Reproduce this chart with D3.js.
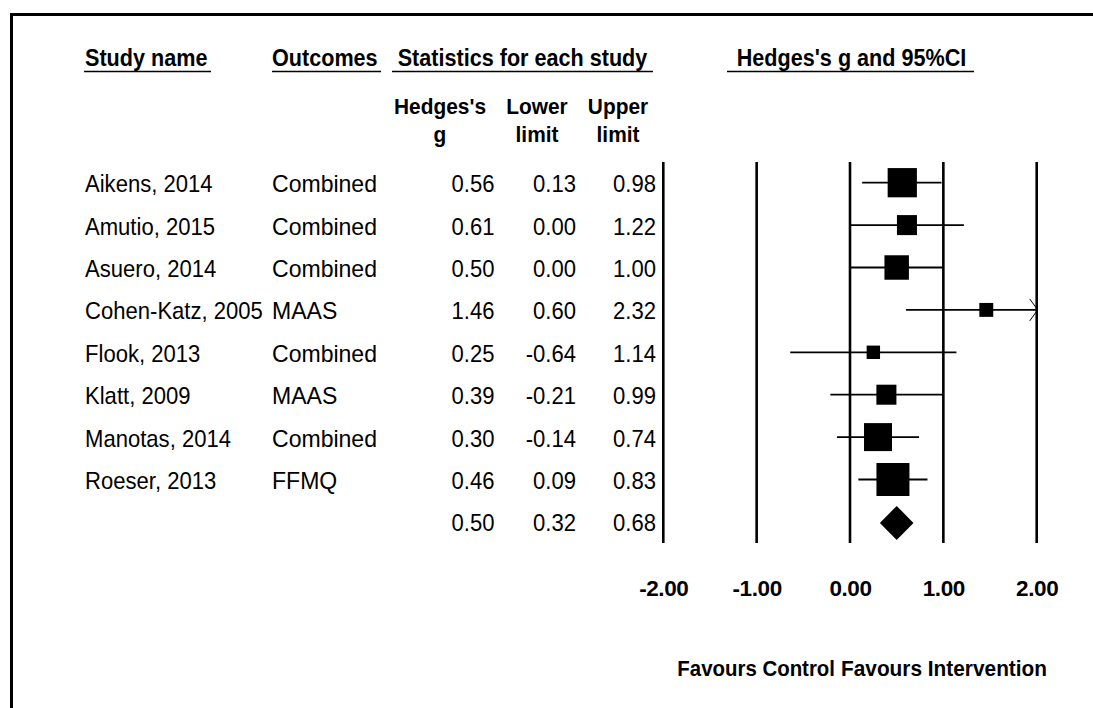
<!DOCTYPE html>
<html><head><meta charset="utf-8">
<script src="https://cdn.jsdelivr.net/npm/d3@7"></script>
<style>
html,body{margin:0;padding:0;background:#fff;}
svg{display:block;font-family:"Liberation Sans",Arial,sans-serif;}
</style></head><body>
<svg id="chart" width="1093" height="708"></svg>
<script>
// ---- data ----
const studies = ["Aikens, 2014","Amutio, 2015","Asuero, 2014","Cohen-Katz, 2005","Flook, 2013","Klatt, 2009","Manotas, 2014","Roeser, 2013"];
const outcomes = ["Combined","Combined","Combined","MAAS","Combined","MAAS","Combined","FFMQ"];
const hedgesG = [0.56,0.61,0.50,1.46,0.25,0.39,0.30,0.46];
const lowerLimit = [0.13,0.00,0.00,0.60,-0.64,-0.21,-0.14,0.09];
const upperLimit = [0.98,1.22,1.00,2.32,1.14,0.99,0.74,0.83];
const relWeights = [19.0,8.9,13.3,4.3,4.0,8.9,17.4,24.2];
const summaryValues = [0.50,0.32,0.68]; // g, lower, upper
const tickValues = [-2,-1,0,1,2];
const topHeaders = ["Study name","Outcomes","Statistics for each study","Hedges's g and 95%CI"];
const subHeaders = [["Hedges's","g"],["Lower","limit"],["Upper","limit"]];
const favourLabels = ["Favours Control","Favours Intervention"];

const svg = d3.select("#chart");
const fmt = v => v.toFixed(2);

// condensed text helper
function txt(x0, y0, t, opts) {
  const o = Object.assign({size:24, bold:false, anchor:"start", sx:0.92}, opts||{});
  return svg.append("text")
    .attr("transform", `translate(${x0},${y0}) scale(${o.sx},1)`)
    .attr("text-anchor", o.anchor)
    .attr("font-size", o.size)
    .attr("font-weight", o.bold ? "bold" : "normal")
    .attr("fill", "#000")
    .text(t);
}

// frame (top + left)
svg.append("line").attr("x1",10).attr("x2",1093).attr("y1",14.5).attr("y2",14.5).attr("stroke","#000").attr("stroke-width",3);
svg.append("line").attr("x1",11.5).attr("x2",11.5).attr("y1",13).attr("y2",708).attr("stroke","#000").attr("stroke-width",3);

// scales
const x = d3.scaleLinear().domain([-2,2]).range([663.3,1036.7]);
const nRows = studies.length + 1;
const y = d3.scalePoint().domain(d3.range(nRows)).range([183.7,522.9]);
const side = d3.scaleSqrt().domain([0,d3.max(relWeights)]).range([0,33]);

// top headers
const hdrPos = [{x:85,a:"start",u:[84,211]},{x:272,a:"start",u:[272,381]},{x:522.5,a:"middle",u:[392,653]},{x:851.5,a:"middle",u:[727,974]}];
topHeaders.forEach((t,i)=>{
  txt(hdrPos[i].x, 65.5, t, {bold:true, anchor:hdrPos[i].a, sx:0.9});
  svg.append("line").attr("x1",hdrPos[i].u[0]).attr("x2",hdrPos[i].u[1]).attr("y1",71.5).attr("y2",71.5)
    .attr("stroke","#000").attr("stroke-width",1.6);
});
// sub headers
const subX = [440,537,618];
subHeaders.forEach((lines,i)=>{
  lines.forEach((t,j)=>{
    txt(subX[i], 113.5+j*28, t, {bold:true, anchor:"middle", size:22, sx:0.95});
  });
});

// table rows
const colRight = [494.5,576,656];
const rows = studies.map((s,i)=>({name:s,outcome:outcomes[i],vals:[hedgesG[i],lowerLimit[i],upperLimit[i]],i}));
rows.forEach(r=>{
  const by = y(r.i)+8.5;
  txt(85, by, r.name);
  txt(272, by, r.outcome, {sx:0.96});
  r.vals.forEach((v,k)=> txt(colRight[k], by, fmt(v), {anchor:"end"}));
});
summaryValues.forEach((v,k)=> txt(colRight[k], y(nRows-1)+8.5, fmt(v), {anchor:"end"}));

// vertical reference lines
svg.append("g").selectAll("line").data(tickValues).join("line")
  .attr("x1",d=>x(d)).attr("x2",d=>x(d)).attr("y1",162).attr("y2",543)
  .attr("stroke","#000").attr("stroke-width",2.6);

// axis labels
const axis = d3.axisBottom(x).tickValues(tickValues).tickFormat(fmt).tickSize(0).tickPadding(0);
const ag = svg.append("g").attr("transform","translate(0,580)").call(axis);
ag.select(".domain").remove();
ag.selectAll("text").attr("font-size",22.5).attr("font-weight","bold").attr("font-family","Liberation Sans, Arial, sans-serif")
  .attr("fill","#000").attr("dy","0").attr("y",16.3).attr("letter-spacing",-0.4);

// CI lines
const plot = svg.append("g");
plot.selectAll("line.ci").data(rows).join("line").attr("class","ci")
  .attr("x1",d=>x(Math.max(d.vals[1],-2))).attr("x2",d=>x(Math.min(d.vals[2],2)))
  .attr("y1",d=>y(d.i)-1).attr("y2",d=>y(d.i)-1)
  .attr("stroke","#000").attr("stroke-width",1.8);
// arrows for truncated CIs
plot.selectAll("polyline.arr").data(rows.filter(d=>d.vals[2]>2)).join("polyline").attr("class","arr")
  .attr("points",d=>{const xe=x(2)+1, yc=y(d.i)-1; return `${xe-8},${yc-11} ${xe},${yc} ${xe-8},${yc+11}`;})
  .attr("fill","none").attr("stroke","#000").attr("stroke-width",1);
// squares
plot.selectAll("rect.pt").data(rows).join("rect").attr("class","pt")
  .attr("x",d=>x(d.vals[0])-side(relWeights[d.i])/2)
  .attr("y",d=>y(d.i)-1-side(relWeights[d.i])/2)
  .attr("width",d=>side(relWeights[d.i])).attr("height",d=>side(relWeights[d.i]))
  .attr("fill","#000");
// summary diamond
const yc = y(nRows-1);
plot.append("polygon")
  .attr("points",[[x(summaryValues[1]),yc],[x(summaryValues[0]),yc-17],[x(summaryValues[2]),yc],[x(summaryValues[0]),yc+17]].map(p=>p.join(",")).join(" "))
  .attr("fill","#000");

// favours labels
txt(835, 676, favourLabels[0], {bold:true, anchor:"end", size:21.5, sx:0.95});
txt(841, 676, favourLabels[1], {bold:true, anchor:"start", size:21.5, sx:0.97});
</script>
</body></html>
